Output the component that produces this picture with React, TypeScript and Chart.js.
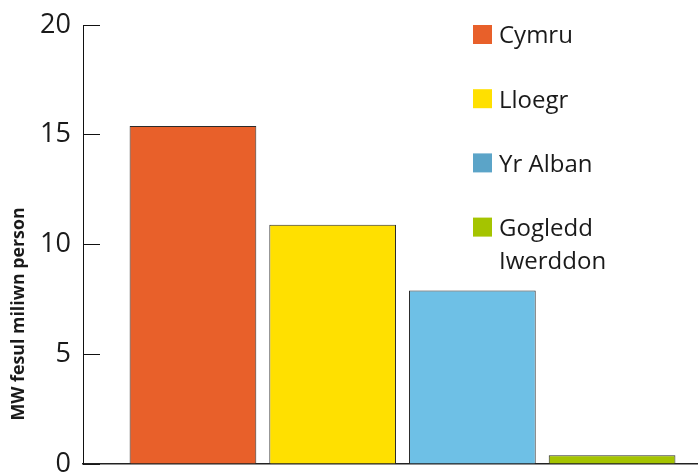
import React, { useEffect, useRef } from "react";
import { Chart, registerables } from "chart.js";

Chart.register(...registerables);

const categories = ["Cymru", "Lloegr", "Yr Alban", "Gogledd Iwerddon"];
const legendLines = [["Cymru"], ["Lloegr"], ["Yr Alban"], ["Gogledd", "Iwerddon"]];
const values = [15.4, 10.9, 7.9, 0.4];
const barColors = ["#E8602A", "#FFE000", "#6EC0E6", "#A5C400"];
const legendColors = ["#E8602A", "#FFE000", "#5BA4C8", "#A5C400"];
const yMin = 0;
const yMax = 20;
const yStep = 5;
const yTitle = "MW fesul miliwn person";

const FONT = "'Open Sans', 'Noto Sans', sans-serif";
const TEXT = "#1a1a1a";

const overlayPlugin = {
  id: "overlay",
  afterDraw(chart: any) {
    const ctx = chart.ctx;
    ctx.save();
    // legend
    const lx = 473;
    const box = 19;
    const top = 34.5;
    const gap = 64.2;
    const lineH = 33;
    ctx.font = `24px ${FONT}`;
    ctx.textBaseline = "middle";
    ctx.textAlign = "left";
    chart.data.datasets.forEach((ds: any, i: number) => {
      const yc = top + i * gap;
      ctx.fillStyle = legendColors[i];
      ctx.fillRect(lx, yc - box / 2, box, box);
      ctx.fillStyle = TEXT;
      legendLines[i].forEach((ln, k) => {
        ctx.fillText(ln, lx + 26, yc + 2 + k * lineH);
      });
    });
    // y axis title
    ctx.translate(19, 314);
    ctx.rotate(-Math.PI / 2);
    ctx.font = `bold 17.8px ${FONT}`;
    ctx.textAlign = "center";
    ctx.textBaseline = "middle";
    ctx.fillStyle = TEXT;
    ctx.fillText(yTitle, 0, 0);
    ctx.restore();
  },
};

export default function App() {
  const ref = useRef<HTMLCanvasElement>(null);
  useEffect(() => {
    if (!ref.current) return;
    const chart = new Chart(ref.current, {
      type: "bar",
      data: {
        datasets: categories.map((c, i) => ({
          label: c,
          data: [{ x: i, y: values[i] }],
          backgroundColor: barColors[i],
          borderColor: "#2b2b2b",
          borderWidth: 1,
          grouped: false,
          categoryPercentage: 1,
          barPercentage: 0.907,
        })),
      },
      options: {
        animation: false,
        responsive: false,
        devicePixelRatio: 1,
        layout: { padding: { top: 25, bottom: 10, left: 0, right: 0 } },
        plugins: { legend: { display: false }, tooltip: { enabled: false } },
        scales: {
          x: {
            type: "linear",
            min: -0.787,
            max: 3.615,
            offset: false,
            afterBuildTicks: (s: any) => {
              s.ticks = categories.map((_, i) => ({ value: i }));
            },
            ticks: { display: false },
            grid: { display: false, drawTicks: false },
            border: { display: true, color: "#222", width: 1.5 },
            afterFit: (s: any) => {
              s.height = 0;
              s.paddingLeft = 0;
              s.paddingRight = 0;
            },
          },
          y: {
            min: yMin,
            max: yMax,
            ticks: {
              stepSize: yStep,
              padding: 29,
              color: TEXT,
              font: { family: FONT, size: 27 },
            },
            grid: {
              drawOnChartArea: false,
              drawTicks: true,
              tickLength: -17,
              color: "#111",
              lineWidth: 1,
            },
            border: { display: true, color: "#111", width: 1 },
            afterFit: (s: any) => {
              s.width = 83;
              s.paddingTop = 0;
              s.paddingBottom = 0;
            },
          },
        },
      },
      plugins: [overlayPlugin],
    });
    return () => chart.destroy();
  }, []);
  return (
    <div style={{ position: "fixed", left: 0, top: 0, width: 698, height: 474, background: "#fff" }}>
      <canvas ref={ref} width={698} height={474} />
    </div>
  );
}
